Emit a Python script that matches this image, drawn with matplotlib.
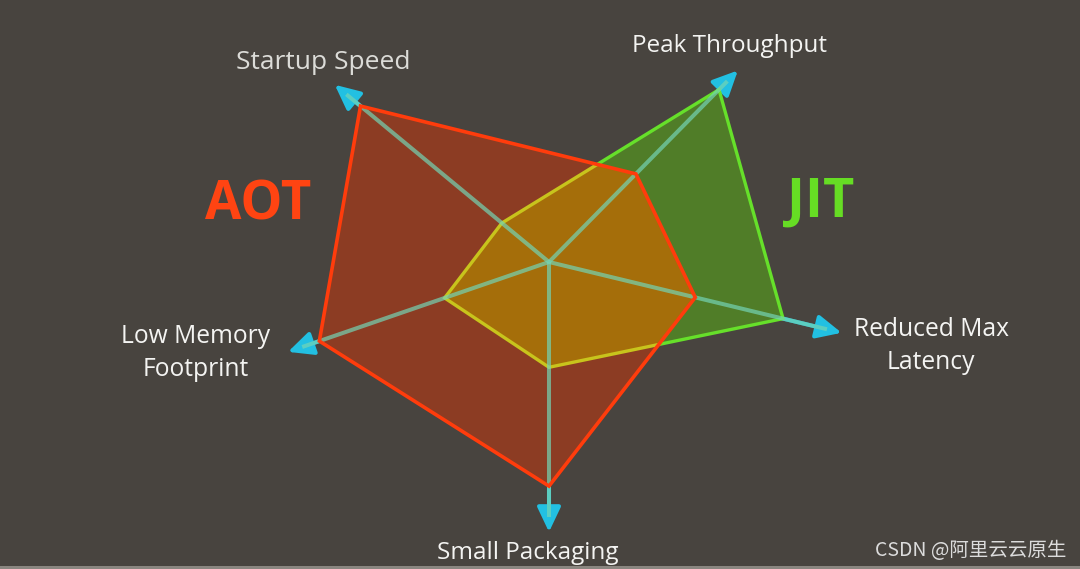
import numpy as np
import matplotlib
matplotlib.use("Agg")
import matplotlib.pyplot as plt
from matplotlib.patches import Polygon, Rectangle

# ---- data ----
categories = ["Startup Speed", "Peak Throughput", "Reduced Max\nLatency",
              "Small Packaging", "Low Memory\nFootprint"]
aot_values = [0.88, 0.46, 0.50, 0.83, 0.88]
jit_values = [0.22, 0.90, 0.80, 0.39, 0.40]
series_names = ["AOT", "JIT"]
watermark = "CSDN @阿里云云原生"

# ---- layout (pixel space) ----
W, H = 1080, 569
cx, cy = 549, 262
angles_deg = [140.4, 45.4, -13.6, -90.0, -161.0]
spoke_len = [278, 269, 301, 270, 276]
label_pos = [(323, 62), (730, 46), (931, 346), (528, 553), (196, 353)]
label_size = [19, 17.5, 17.7, 17.5, 17.7]

BG = "#48443f"
CYAN = "#22c0e2"
AOT_EDGE = "#ff3c0c"
AOT_FILL = "#8c3c23"
JIT_EDGE = "#66e02a"
JIT_FILL = "#507d28"
OVER_FILL = "#a56e0a"
JIT_EDGE_IN = "#c8c41c"

fig = plt.figure(figsize=(W / 100, H / 100), dpi=100, facecolor=BG)
ax = fig.add_axes([0, 0, 1, 1])
ax.set_xlim(0, W)
ax.set_ylim(H, 0)
ax.set_facecolor(BG)
ax.axis("off")

ang = np.deg2rad(angles_deg)
ux, uy = np.cos(ang), -np.sin(ang)  # y inverted
L = np.array(spoke_len, dtype=float)


def pts(vals):
    v = np.asarray(vals) * L
    return np.column_stack([cx + v * ux, cy + v * uy])


# spokes with arrow heads (base layer)
for i in range(len(categories)):
    tip = (cx + L[i] * ux[i], cy + L[i] * uy[i])
    ax.annotate("", xy=tip, xytext=(cx, cy),
                arrowprops=dict(arrowstyle="-|>,head_length=0.95,head_width=0.45",
                                lw=2.9, color=CYAN, shrinkA=0, shrinkB=0,
                                mutation_scale=16), zorder=1)

jit_xy = pts(jit_values)
aot_xy = pts(aot_values)

jit_fill = Polygon(jit_xy, closed=True, facecolor=JIT_FILL, edgecolor="none", zorder=2)
ax.add_patch(jit_fill)
ax.add_patch(Polygon(jit_xy, closed=True, facecolor="none", edgecolor=JIT_EDGE,
                     lw=2.4, joinstyle="miter", zorder=2.5))
aot_fill = Polygon(aot_xy, closed=True, facecolor=AOT_FILL, edgecolor="none", zorder=3)
ax.add_patch(aot_fill)

# overlap region
over = Polygon(aot_xy, closed=True, facecolor=OVER_FILL, edgecolor="none", zorder=3.2)
ax.add_patch(over)
clip_j = Polygon(jit_xy, closed=True, transform=ax.transData)
over.set_clip_path(clip_j)

# JIT edge seen through AOT
jin = Polygon(jit_xy, closed=True, facecolor="none", edgecolor=JIT_EDGE_IN,
              lw=2.4, joinstyle="miter", zorder=3.4)
ax.add_patch(jin)
clip_a = Polygon(aot_xy, closed=True, transform=ax.transData)
jin.set_clip_path(clip_a)

# spokes seen through fills
for i in range(len(categories)):
    ax.plot([cx, cx + (L[i] - 15) * ux[i]], [cy, cy + (L[i] - 15) * uy[i]],
            color="#74d4b4", lw=2.9, alpha=0.7, zorder=3.6, solid_capstyle="butt")

ax.add_patch(Polygon(aot_xy, closed=True, facecolor="none", edgecolor=AOT_EDGE,
                     lw=2.6, joinstyle="miter", zorder=4))

# axis labels
for i, (lab, (lx, ly)) in enumerate(zip(categories, label_pos)):
    col = "#dcdcd8" if i == 0 else "#f4f4f2"
    ax.text(lx, ly, lab, ha="center", va="center", fontsize=label_size[i],
            family="Open Sans", color=col, linespacing=1.45, zorder=5)

# series labels
ax.text(258, 205, series_names[0], ha="center", va="center", fontsize=38,
        family="Open Sans", weight="bold", color="#ff4412", zorder=5)
ax.text(821, 203, series_names[1], ha="center", va="center", fontsize=39,
        family="Open Sans", weight="bold", color="#66dd24", zorder=5)

# watermark
ax.text(1066, 550, watermark, ha="right", va="center", fontsize=14,
        family=["Noto Sans CJK SC", "DejaVu Sans"], color="#dcdcdc", zorder=5)

# bottom light strip
ax.add_patch(Rectangle((0, H - 3), W, 3, facecolor="#8a8680", edgecolor="none", zorder=0.5))

fig.savefig("out.png", dpi=100, facecolor=BG)
